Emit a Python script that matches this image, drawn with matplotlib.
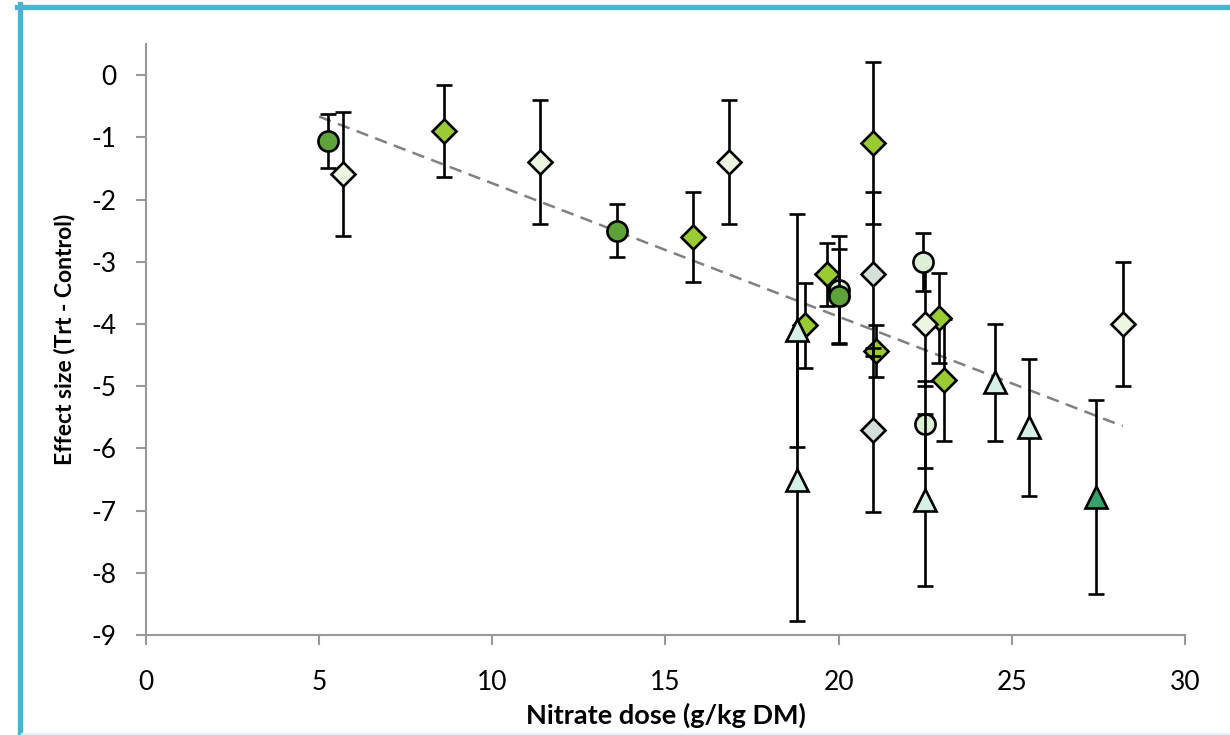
import matplotlib
matplotlib.use("Agg")
import matplotlib.pyplot as plt
from matplotlib.lines import Line2D

plt.rcParams["font.family"] = ["Lato", "DejaVu Sans"]
plt.rcParams["axes.unicode_minus"] = False

# Series data: x = nitrate dose, y = effect size, e = error bar half-length
dark_circle_x = [5.26, 13.6]
dark_circle_y = [-1.06, -2.5]
dark_circle_e = [0.43, 0.43]

light_circle_x = [20.0, 22.44, 22.5]
light_circle_y = [-3.45, -3.0, -5.61]
light_circle_e = [0.87, 0.47, 0.70]

dark_circle2_x = [20.0]
dark_circle2_y = [-3.55]
dark_circle2_e = [0.76]

green_diamond_x = [8.6, 15.8, 19.03, 19.66, 21.0, 21.08, 22.9, 23.04]
green_diamond_y = [-0.9, -2.6, -4.02, -3.2, -1.09, -4.43, -3.9, -4.9]
green_diamond_e = [0.74, 0.73, 0.68, 0.51, 1.3, 0.42, 0.72, 0.98]

light_diamond_x = [5.69, 11.38, 16.83, 22.5, 28.21]
light_diamond_y = [-1.59, -1.4, -1.4, -4.0, -4.0]
light_diamond_e = [1.0, 1.0, 1.0, 1.0, 1.0]

grey_diamond_x = [21.0, 21.0]
grey_diamond_y = [-3.2, -5.71]
grey_diamond_e = [1.32, 1.32]

light_triangle_x = [18.8, 18.8, 22.5, 24.5, 25.5]
light_triangle_y = [-4.1, -6.5, -6.83, -4.94, -5.66]
light_triangle_e = [1.87, 2.27, 1.38, 0.94, 1.1]

dark_triangle_x = [27.43]
dark_triangle_y = [-6.78]
dark_triangle_e = [1.56]

# linear trend line
trend_x = [5.0, 28.2]
trend_slope = -0.2144
trend_intercept = 0.406

fig = plt.figure(figsize=(12.3, 7.35), dpi=100)
ax = fig.add_axes([0.1187, 0.136, 0.8447, 0.804])

series = [
    (green_diamond_x, green_diamond_y, green_diamond_e, "D", "#99CC33", 12),
    (light_diamond_x, light_diamond_y, light_diamond_e, "D", "#EBF5DF", 12),
    (grey_diamond_x, grey_diamond_y, grey_diamond_e, "D", "#D5E0DA", 12),
    (light_circle_x, light_circle_y, light_circle_e, "o", "#DDEFD5", 14.5),
    (dark_circle_x, dark_circle_y, dark_circle_e, "o", "#5EA33A", 14.5),
    (dark_circle2_x, dark_circle2_y, dark_circle2_e, "o", "#5EA33A", 14.5),
    (light_triangle_x, light_triangle_y, light_triangle_e, "^", "#D5F0E4", 15.5),
    (dark_triangle_x, dark_triangle_y, dark_triangle_e, "^", "#33A36B", 15.5),
]

for i, (xs, ys, es, mk, col, ms) in enumerate(series):
    ax.errorbar(xs, ys, yerr=es, fmt=mk, color="black", ecolor="black",
                elinewidth=1.9, capsize=5.5, capthick=1.9,
                markerfacecolor=col, markeredgecolor="black",
                markeredgewidth=1.9, markersize=ms, zorder=3 + i * 0.1)

ty = [trend_intercept + trend_slope * x for x in trend_x]
ax.plot(trend_x, ty, color="#808080", linestyle=(0, (5, 3)), linewidth=1.8, zorder=2)

ax.set_xlim(0, 30)
ax.set_ylim(-9, 0.5)
ax.set_xticks(range(0, 31, 5))
ax.set_yticks(range(-9, 1))
for s in ["top", "right"]:
    ax.spines[s].set_visible(False)
for s in ["left", "bottom"]:
    ax.spines[s].set_color("#999999")
    ax.spines[s].set_linewidth(1.5)
ax.tick_params(direction="out", length=7, width=1.5, color="#999999",
               labelsize=19)
ax.tick_params(axis="y", pad=14)
ax.tick_params(axis="x", pad=18)
ax.set_xlabel("Nitrate dose (g/kg DM)", fontsize=19.5, fontweight="bold", labelpad=6)
ax.set_ylabel("Effect size (Trt - Control)", fontsize=16.5, fontweight="bold", labelpad=12)

# chart frame
fig.add_artist(Line2D([17 / 1230, 1], [1 - 6.5 / 735, 1 - 6.5 / 735],
                      transform=fig.transFigure, color="#4BB3D1", linewidth=3.8))
fig.add_artist(Line2D([19.5 / 1230, 19.5 / 1230], [0, 1 - 4 / 735],
                      transform=fig.transFigure, color="#4BB3D1", linewidth=3.8))
fig.add_artist(Line2D([22 / 1230, 1], [1.5 / 735, 1.5 / 735],
                      transform=fig.transFigure, color="#E4F2F8", linewidth=1.5))

fig.savefig("out.png", dpi=100)
